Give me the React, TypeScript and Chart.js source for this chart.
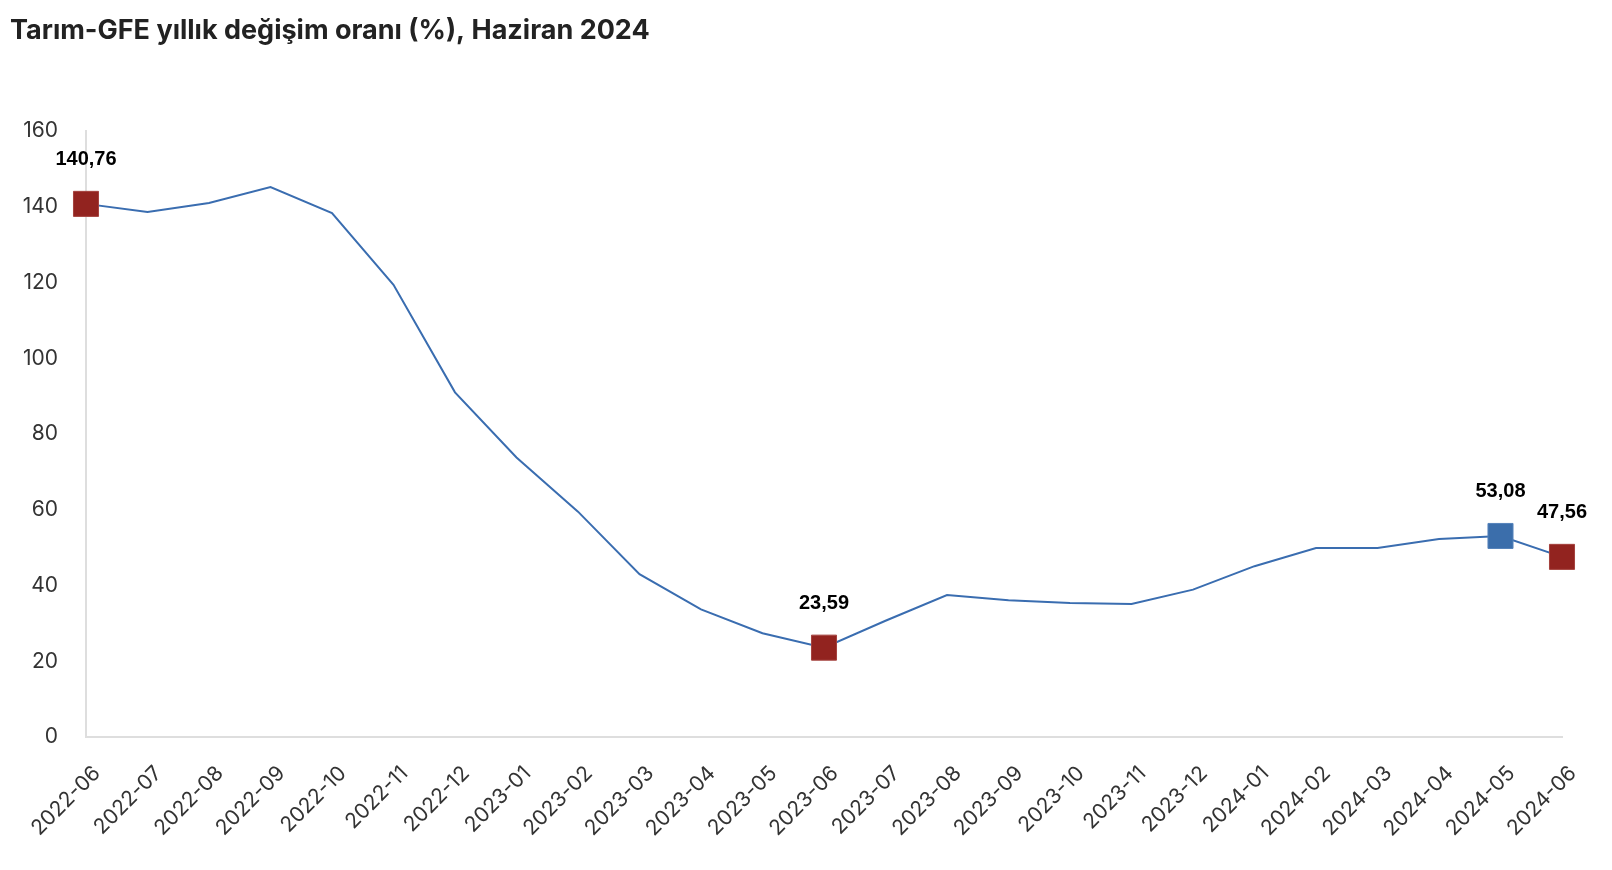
import React, { useEffect, useRef } from "react";
import { Chart, registerables } from "chart.js";

Chart.register(...registerables);

const months: string[] = [
  "2022-06", "2022-07", "2022-08", "2022-09", "2022-10", "2022-11", "2022-12",
  "2023-01", "2023-02", "2023-03", "2023-04", "2023-05", "2023-06", "2023-07",
  "2023-08", "2023-09", "2023-10", "2023-11", "2023-12", "2024-01", "2024-02",
  "2024-03", "2024-04", "2024-05", "2024-06",
];

const values: number[] = [
  140.76, 138.6, 141.0, 145.2, 138.3, 119.4, 91.0,
  73.8, 59.5, 43.0, 33.7, 27.4, 23.59, 30.7,
  37.5, 36.1, 35.4, 35.1, 38.9, 45.1, 49.9,
  49.9, 52.3, 53.08, 47.56,
];

const redPoints: number[] = [0, 12, 24];
const bluePoints: number[] = [23];
const labelledPoints: number[] = [0, 12, 23, 24];

const yTicks: number[] = [0, 20, 40, 60, 80, 100, 120, 140, 160];

const TITLE = "Tarım-GFE yıllık değişim oranı (%), Haziran 2024";

const LINE_COLOR = "#3a6db0";
const RED = "#92231f";
const BLUE = "#3b6eab";

const fmt = (v: number) => v.toFixed(2).replace(".", ",");

const dataLabelPlugin = {
  id: "dataLabels",
  afterDatasetsDraw(chart: any) {
    const ctx = chart.ctx;
    const meta = chart.getDatasetMeta(0);
    ctx.save();
    ctx.font = "bold 20px 'Liberation Sans', Arial, sans-serif";
    ctx.fillStyle = "#000";
    ctx.textAlign = "center";
    ctx.textBaseline = "middle";
    labelledPoints.forEach((i) => {
      const el = meta.data[i];
      if (!el) return;
      ctx.fillText(fmt(values[i]), el.x, el.y - 44);
    });
    ctx.restore();
  },
};

export default function App() {
  const ref = useRef<HTMLCanvasElement | null>(null);

  useEffect(() => {
    if (!ref.current) return;
    const radius = (i: number) =>
      redPoints.includes(i) || bluePoints.includes(i) ? 17.7 : 0;
    const color = (i: number) =>
      redPoints.includes(i) ? RED : bluePoints.includes(i) ? BLUE : LINE_COLOR;

    const chart = new Chart(ref.current, {
      type: "line",
      data: {
        labels: months,
        datasets: [
          {
            data: values,
            borderColor: LINE_COLOR,
            borderWidth: 2,
            tension: 0,
            pointStyle: "rect",
            pointRadius: months.map((_, i) => radius(i)),
            pointHoverRadius: months.map((_, i) => radius(i)),
            pointBackgroundColor: months.map((_, i) => color(i)),
            pointBorderColor: months.map((_, i) =>
              redPoints.includes(i) ? "#a5423e" : "#5683bb"
            ),
            pointBorderWidth: 1,
          },
        ],
      },
      options: {
        responsive: true,
        maintainAspectRatio: false,
        animation: false,
        layout: { padding: { left: 2, right: 42, top: 0, bottom: 0 } },
        plugins: {
          legend: { display: false },
          tooltip: { enabled: false },
          title: {
            display: true,
            text: TITLE,
            align: "start",
            color: "#222",
            font: { family: "Inter, 'Noto Sans', sans-serif", size: 27, weight: "bold" },
            padding: { top: 7, bottom: 83.6 },
          },
        },
        scales: {
          x: {
            type: "category",
            offset: false,
            grid: { display: false, drawTicks: false },
            border: { display: true, color: "#dedede", width: 2 },
            ticks: {
              autoSkip: false,
              maxRotation: 45,
              minRotation: 45,
              padding: 24,
              labelOffset: 11,
              color: "#333",
              font: { family: "Inter, 'Noto Sans', sans-serif", size: 21 },
            },
            afterFit: (s: any) => {
              s.height = 125;
              s.paddingLeft = 0;
              s.paddingRight = 0;
            },
          },
          y: {
            min: 0,
            max: 160,
            grid: { display: false, drawTicks: false },
            border: { display: true, color: "#dedede", width: 2 },
            afterBuildTicks: (s: any) => {
              s.ticks = yTicks.map((v) => ({ value: v }));
            },
            ticks: {
              padding: 28,
              color: "#333",
              font: { family: "Inter, 'Noto Sans', sans-serif", size: 21 },
            },
            afterFit: (s: any) => {
              s.width = 76;
            },
          },
        },
      },
      plugins: [dataLabelPlugin],
    });
    return () => chart.destroy();
  }, []);

  return (
    <div style={{ width: 1596, height: 854, position: "relative" }}>
      <canvas ref={ref} />
    </div>
  );
}
